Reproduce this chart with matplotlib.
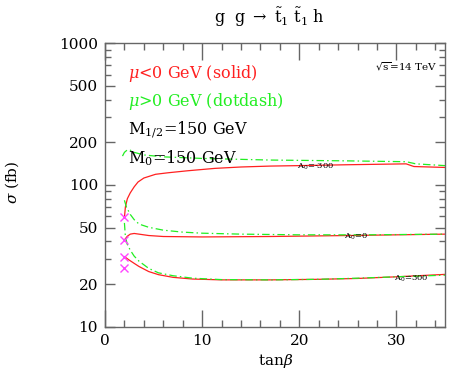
import matplotlib
matplotlib.use("Agg")
import matplotlib.pyplot as plt
import numpy as np
from matplotlib.ticker import FixedLocator, NullFormatter

plt.rcParams['font.family'] = ['DejaVu Serif']
plt.rcParams['mathtext.fontset'] = 'dejavuserif'

# ---- data ----
tb_neg_m300 = [2.0, 2.1, 2.3, 2.6, 3.0, 3.4, 4.0, 5.2, 6.5, 8.5, 11.3, 14, 17, 20, 25, 31.0, 31.8, 35]
sig_neg_m300 = [59, 70, 80, 88, 97, 105, 112, 119, 122, 126, 131, 134, 136, 137, 139, 141, 135, 133]
tb_pos_m300 = [1.8, 2.0, 2.3, 2.6, 3.0, 4.0, 6.0, 10, 17, 25, 31.0, 32, 35]
sig_pos_m300 = [160, 170, 177, 176, 170, 163, 158, 154, 150, 148, 146, 141, 137]

tb_neg_0 = [2.0, 2.3, 2.6, 3.0, 3.5, 4.5, 6.0, 10, 17, 25, 35]
sig_neg_0 = [41, 43.5, 45, 45.5, 45, 44, 43.3, 43, 43.3, 44, 45]
tb_pos_0 = [2.0, 2.2, 2.6, 3.0, 3.5, 4.5, 6.0, 8.0, 10, 14, 20, 27, 35]
sig_pos_0 = [78, 70, 62, 57, 53, 50.3, 48, 46.5, 45.7, 45, 44.5, 44.5, 45]

tb_neg_300 = [2.0, 2.5, 3.0, 3.5, 4.5, 5.5, 7.0, 9.0, 12, 17, 22, 26, 30, 35]
sig_neg_300 = [31.2, 29.5, 28, 26.6, 24.5, 23.3, 22.3, 21.7, 21.4, 21.4, 21.6, 21.9, 22.5, 23.4]
tb_pos_300 = [2.0, 2.1, 2.3, 2.6, 3.0, 3.5, 4.5, 5.5, 7.0, 9.0, 12, 17, 22, 26, 30, 35]
sig_pos_300 = [54, 43, 38, 34.7, 31.5, 29, 25.8, 24, 22.9, 22, 21.5, 21.4, 21.6, 22, 22.5, 23.1]

x_cross = [2.0, 2.0, 2.0, 2.0]
y_cross = [59, 41, 31.2, 25.8]

labels = ['$\\mathregular{A_0}$=-300', '$\\mathregular{A_0}$=0', '$\\mathregular{A_0}$=300']
label_x = [19.8, 24.6, 29.7]
label_y = [135, 43, 21.8]

xmajor = [0, 10, 20, 30]
xminor = [2, 4, 6, 8, 12, 14, 16, 18, 22, 24, 26, 28, 32, 34]
ymajor = [10, 20, 50, 100, 200, 500, 1000]
yminor = [30, 40, 60, 70, 80, 90, 300, 400, 600, 700, 800, 900]

# ---- figure ----
fig = plt.figure(figsize=(4.49, 3.74), dpi=100)
ax = fig.add_axes([105/449, 1-326.7/374, 340/449, 283.4/374])

red = '#ff2020'
green = '#22ee22'
ls_dd = (0, (6, 2.5, 1.2, 2.5))
ax.plot(tb_neg_m300, sig_neg_m300, color=red, lw=0.9)
ax.plot(tb_neg_0, sig_neg_0, color=red, lw=0.9)
ax.plot(tb_neg_300, sig_neg_300, color=red, lw=0.9)
ax.plot(tb_pos_m300, sig_pos_m300, color=green, lw=0.9, ls=ls_dd)
ax.plot(tb_pos_0, sig_pos_0, color=green, lw=0.9, ls=ls_dd)
ax.plot(tb_pos_300, sig_pos_300, color=green, lw=0.9, ls=ls_dd)
ax.plot(x_cross, y_cross, ls='none', marker='x', ms=6, mew=1.0, color='#ff44ff')

for t, xx, yy in zip(labels, label_x, label_y):
    ax.text(xx, yy, t, fontsize=6, ha='left', va='center', color='black')

ax.set_yscale('log')
ax.set_xlim(0, 35)
ax.set_ylim(10, 1000)

gray = '#666666'
for s in ax.spines.values():
    s.set_color(gray)
    s.set_linewidth(1.0)

ax.xaxis.set_major_locator(FixedLocator(xmajor))
ax.xaxis.set_minor_locator(FixedLocator(xminor))
ax.yaxis.set_major_locator(FixedLocator(ymajor))
ax.yaxis.set_minor_locator(FixedLocator(yminor))
ax.set_xticklabels([str(v) for v in xmajor])
ax.set_yticklabels([str(v) for v in ymajor])
ax.yaxis.set_minor_formatter(NullFormatter())

ax.tick_params(axis='both', which='both', direction='in', top=True, right=True,
               color=gray, labelsize=11, width=1.0)
ax.tick_params(axis='x', which='major', length=12, pad=5)
ax.tick_params(axis='x', which='minor', length=5)
ax.tick_params(axis='y', which='major', length=7, pad=5)
ax.tick_params(axis='y', which='minor', length=4.5)

# texts
fig.text(269/449, 1-17/374, r'g  g $\rightarrow$ $\tilde{\mathrm{t}}_1$ $\tilde{\mathrm{t}}_1$ h',
         ha='center', va='center', fontsize=11.5)
fig.text(12/449, 1-182/374, r'$\sigma$ (fb)', rotation=90, ha='center', va='center', fontsize=11)
fig.text(276/449, 1-361/374, r'tan$\beta$', ha='center', va='center', fontsize=11)

fig.text(437/449, 1-67/374, r'$\sqrt{\mathrm{s}}$=14 TeV', ha='right', va='center', fontsize=7.5)
fig.text(128/449, 1-73/374, r'$\mu$<0 GeV (solid)', ha='left', va='center', fontsize=11.5, color='#ff2020')
fig.text(128/449, 1-101/374, r'$\mu$>0 GeV (dotdash)', ha='left', va='center', fontsize=11.5, color='#22ee22')
fig.text(128/449, 1-130/374, r'M$_{1/2}$=150 GeV', ha='left', va='center', fontsize=11.5, color='black')
fig.text(128/449, 1-158/374, r'M$_0$=150 GeV', ha='left', va='center', fontsize=11.5, color='black')

fig.savefig('out.png', dpi=100)
